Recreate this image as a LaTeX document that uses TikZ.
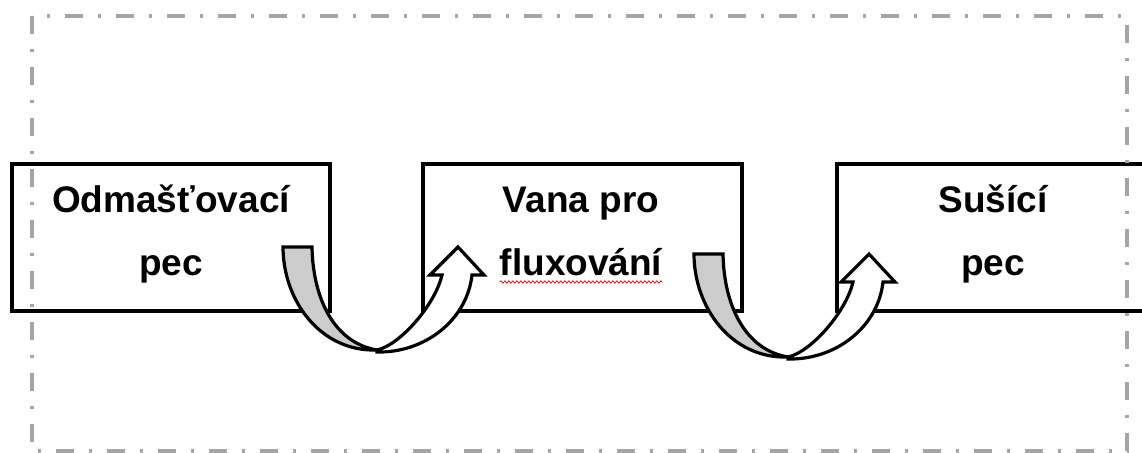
\documentclass[tikz,border=0pt]{standalone}
\usepackage{fontspec}
\setmainfont{Liberation Sans}
\usetikzlibrary{decorations.pathmorphing}
\definecolor{framegray}{RGB}{165,165,165}
\definecolor{bandgray}{RGB}{204,204,204}
\begin{document}
\begin{tikzpicture}[x=1pt,y=-1pt,
  stagebox/.style={draw=black,line width=3.5pt,minimum height=147pt,inner sep=0pt},
  stagetext/.style={anchor=base,inner sep=0pt,font=\fontsize{37}{44}\selectfont\bfseries},
  outline/.style={draw=black,line width=3.2pt},
  bendarrow/.pic={
    % back side of the ribbon
    \path[outline,fill=bandgray] (0,0) -- (29,0)
      .. controls (30,53) and (52,96) .. (94,103)
      .. controls (37,105) and (0,53) .. (0,0) -- cycle;
    % front side rising into the arrow head
    \path[outline,fill=white] (94,105)
      .. controls (142,106) and (184,73) .. (189,28)
      -- (201,28) -- (175,0) -- (147,28) -- (159,28)
      .. controls (152,58) and (117,98) .. (94,103) -- cycle;
  }]
\useasboundingbox (0,0) rectangle (1142,452);
\clip (0,0) rectangle (1142,452);

% process stages
\node[stagebox,minimum width=318pt] (odm)  at (171,237.5)   {};
\node[stagebox,minimum width=319pt] (vana) at (582.5,237.5) {};
\node[stagebox,minimum width=323pt] (susi) at (998.5,237.5) {};

\node[stagetext] (odm1)  at (171,212) {Odmašťovací};
\node[stagetext] (odm2)  at (171,275) {pec};
\node[stagetext] (vana1) at (581,212) {Vana pro};
\node[stagetext] (vana2) at (581,275) {fluxování};
\node[stagetext] (susi1) at (993,212) {Sušící};
\node[stagetext] (susi2) at (993,275) {pec};

% spell-check underline
\draw[red,line width=0.8pt,decorate,decoration={snake,segment length=4pt,amplitude=1.1pt}]
  ([yshift=-7pt]vana2.base west) -- ([yshift=-7pt]vana2.base east);

% surrounding boundary
\draw[framegray,line width=3.2pt,dash pattern=on 18pt off 15pt on 3pt off 15pt]
  (32,16) rectangle (1127,451);

% transfer arrows between stages
\pic at (283,247) {bendarrow};
\pic at (694,254) {bendarrow};
\end{tikzpicture}
\end{document}
